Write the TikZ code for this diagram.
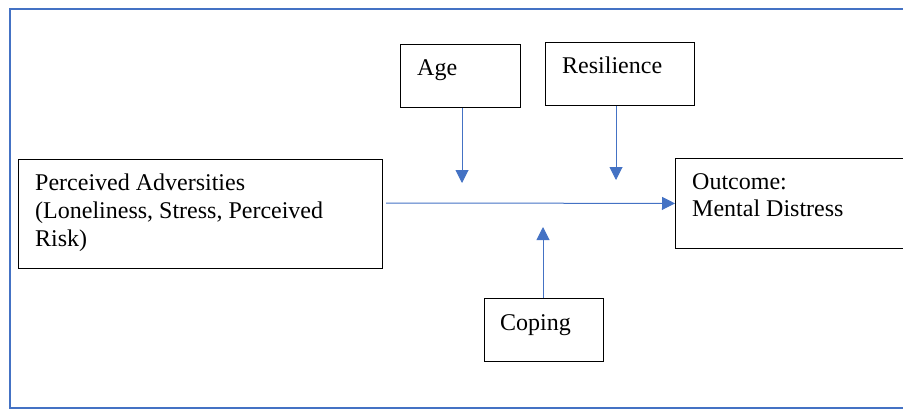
\documentclass[tikz,border=0pt]{standalone}
\usepackage{fontspec}
\setmainfont{Liberation Serif}
\usetikzlibrary{arrows.meta}
\definecolor{wblue}{HTML}{4472C4}
\begin{document}
\begin{tikzpicture}[x=1pt,y=-1pt,
  box/.style={draw=black,line width=0.8pt,inner sep=0pt,anchor=north west},
  txt/.style={inner sep=0pt,font=\fontsize{24}{27.6}\selectfont,align=left},
  link/.style={draw=wblue,line width=1pt,-{Triangle[width=13pt,length=13pt]}}]
\useasboundingbox (0,0) rectangle (903,410);
\clip (0,0) rectangle (903,410);
% outer frame
\draw[wblue,line width=1.4pt] (920,9) -- (10,9) -- (10,408) -- (920,408);
% boxes
\node[box,minimum width=364pt,minimum height=109pt] (adv) at (18,159) {};
\node[box,minimum width=120pt,minimum height=63pt] (age) at (400,44) {};
\node[box,minimum width=149pt,minimum height=63pt] (res) at (545,42) {};
\node[box,minimum width=260pt,minimum height=90pt] (out) at (675,158) {};
\node[box,minimum width=119pt,minimum height=63pt] (cop) at (484,298) {};
% texts
\node[txt,anchor=north west] (advt) at (35,174) {Perceived Adversities\\(Loneliness, Stress, Perceived\\Risk)};
\node[txt,anchor=base west] (aget) at (417,75) {Age};
\node[txt,anchor=base west] (rest) at (562,73) {Resilience};
\node[txt,anchor=north west] (outt) at (692,173) {Outcome:\\Mental Distress};
\node[txt,anchor=base west] (copt) at (500,330) {Coping};
% connectors
\coordinate (s) at (386,203);
\coordinate (a1) at (462,183);
\coordinate (r1) at (616,180);
\coordinate (c1) at (543,227);
\draw[link] (s) -- (out.west);
\draw[link] (age.south -| a1) -- (a1);
\draw[link] (res.south -| r1) -- (r1);
\draw[link] (cop.north -| c1) -- (c1);
\end{tikzpicture}
\end{document}
